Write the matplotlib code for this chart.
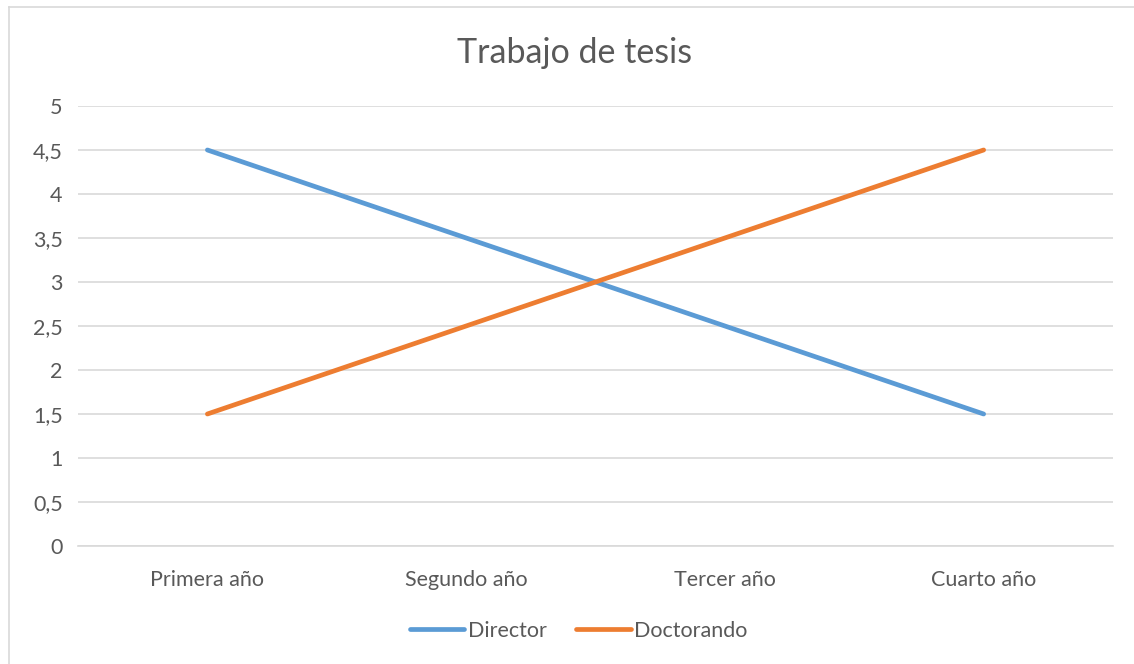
import matplotlib.pyplot as plt
from matplotlib.lines import Line2D

plt.rcParams['font.family'] = ['Lato', 'DejaVu Sans']

# Data
categories = ['Primera año', 'Segundo año', 'Tercer año', 'Cuarto año']
director = [4.5, 3.5, 2.5, 1.5]
doctorando = [1.5, 2.5, 3.5, 4.5]
y_ticks = [0, 0.5, 1, 1.5, 2, 2.5, 3, 3.5, 4, 4.5, 5]
y_labels = ['0', '0,5', '1', '1,5', '2', '2,5', '3', '3,5', '4', '4,5', '5']

text_color = '#595959'
grid_color = '#D9D9D9'

fig = plt.figure(figsize=(11.34, 6.64), dpi=100)
ax = fig.add_axes([0.0688, 0.1777, 0.9127, 0.6627])

x = range(len(categories))
ax.plot(x, director, color='#5B9BD5', lw=3.4, solid_capstyle='round', label='Director', zorder=3)
ax.plot(x, doctorando, color='#ED7D31', lw=3.4, solid_capstyle='round', label='Doctorando', zorder=3)

ax.set_xlim(-0.5, 3.5)
ax.set_ylim(0, 5)
ax.set_xticks(list(x))
ax.set_xticklabels(categories)
ax.set_yticks(y_ticks)
ax.set_yticklabels(y_labels)
ax.tick_params(length=0, labelsize=15.5, colors=text_color)
ax.tick_params(axis='x', pad=17)
ax.tick_params(axis='y', pad=11)
ax.grid(axis='y', color=grid_color, lw=1.2)
ax.set_axisbelow(True)
for s in ['top', 'right', 'left']:
    ax.spines[s].set_visible(False)
ax.spines['bottom'].set_color(grid_color)
ax.spines['bottom'].set_linewidth(1.2)

fig.text(0.507, 0.92, 'Trabajo de tesis', ha='center', va='center', fontsize=24.5, color=text_color)

handles = [Line2D([], [], color='#5B9BD5', lw=3.4, solid_capstyle='round'),
           Line2D([], [], color='#ED7D31', lw=3.4, solid_capstyle='round')]
fig.legend(handles, ['Director', 'Doctorando'], loc='center', bbox_to_anchor=(0.51, 0.05),
           ncol=2, frameon=False, fontsize=15.5, labelcolor=text_color,
           handlelength=2.55, handletextpad=0.15, columnspacing=1.35)

# chart border
fig.add_artist(Line2D([0.0075, 0.0075], [0, 0.9895], color=grid_color, lw=1.2))
fig.add_artist(Line2D([0.0075, 1], [0.9895, 0.9895], color=grid_color, lw=1.2))

fig.savefig('out.png', dpi=100)
